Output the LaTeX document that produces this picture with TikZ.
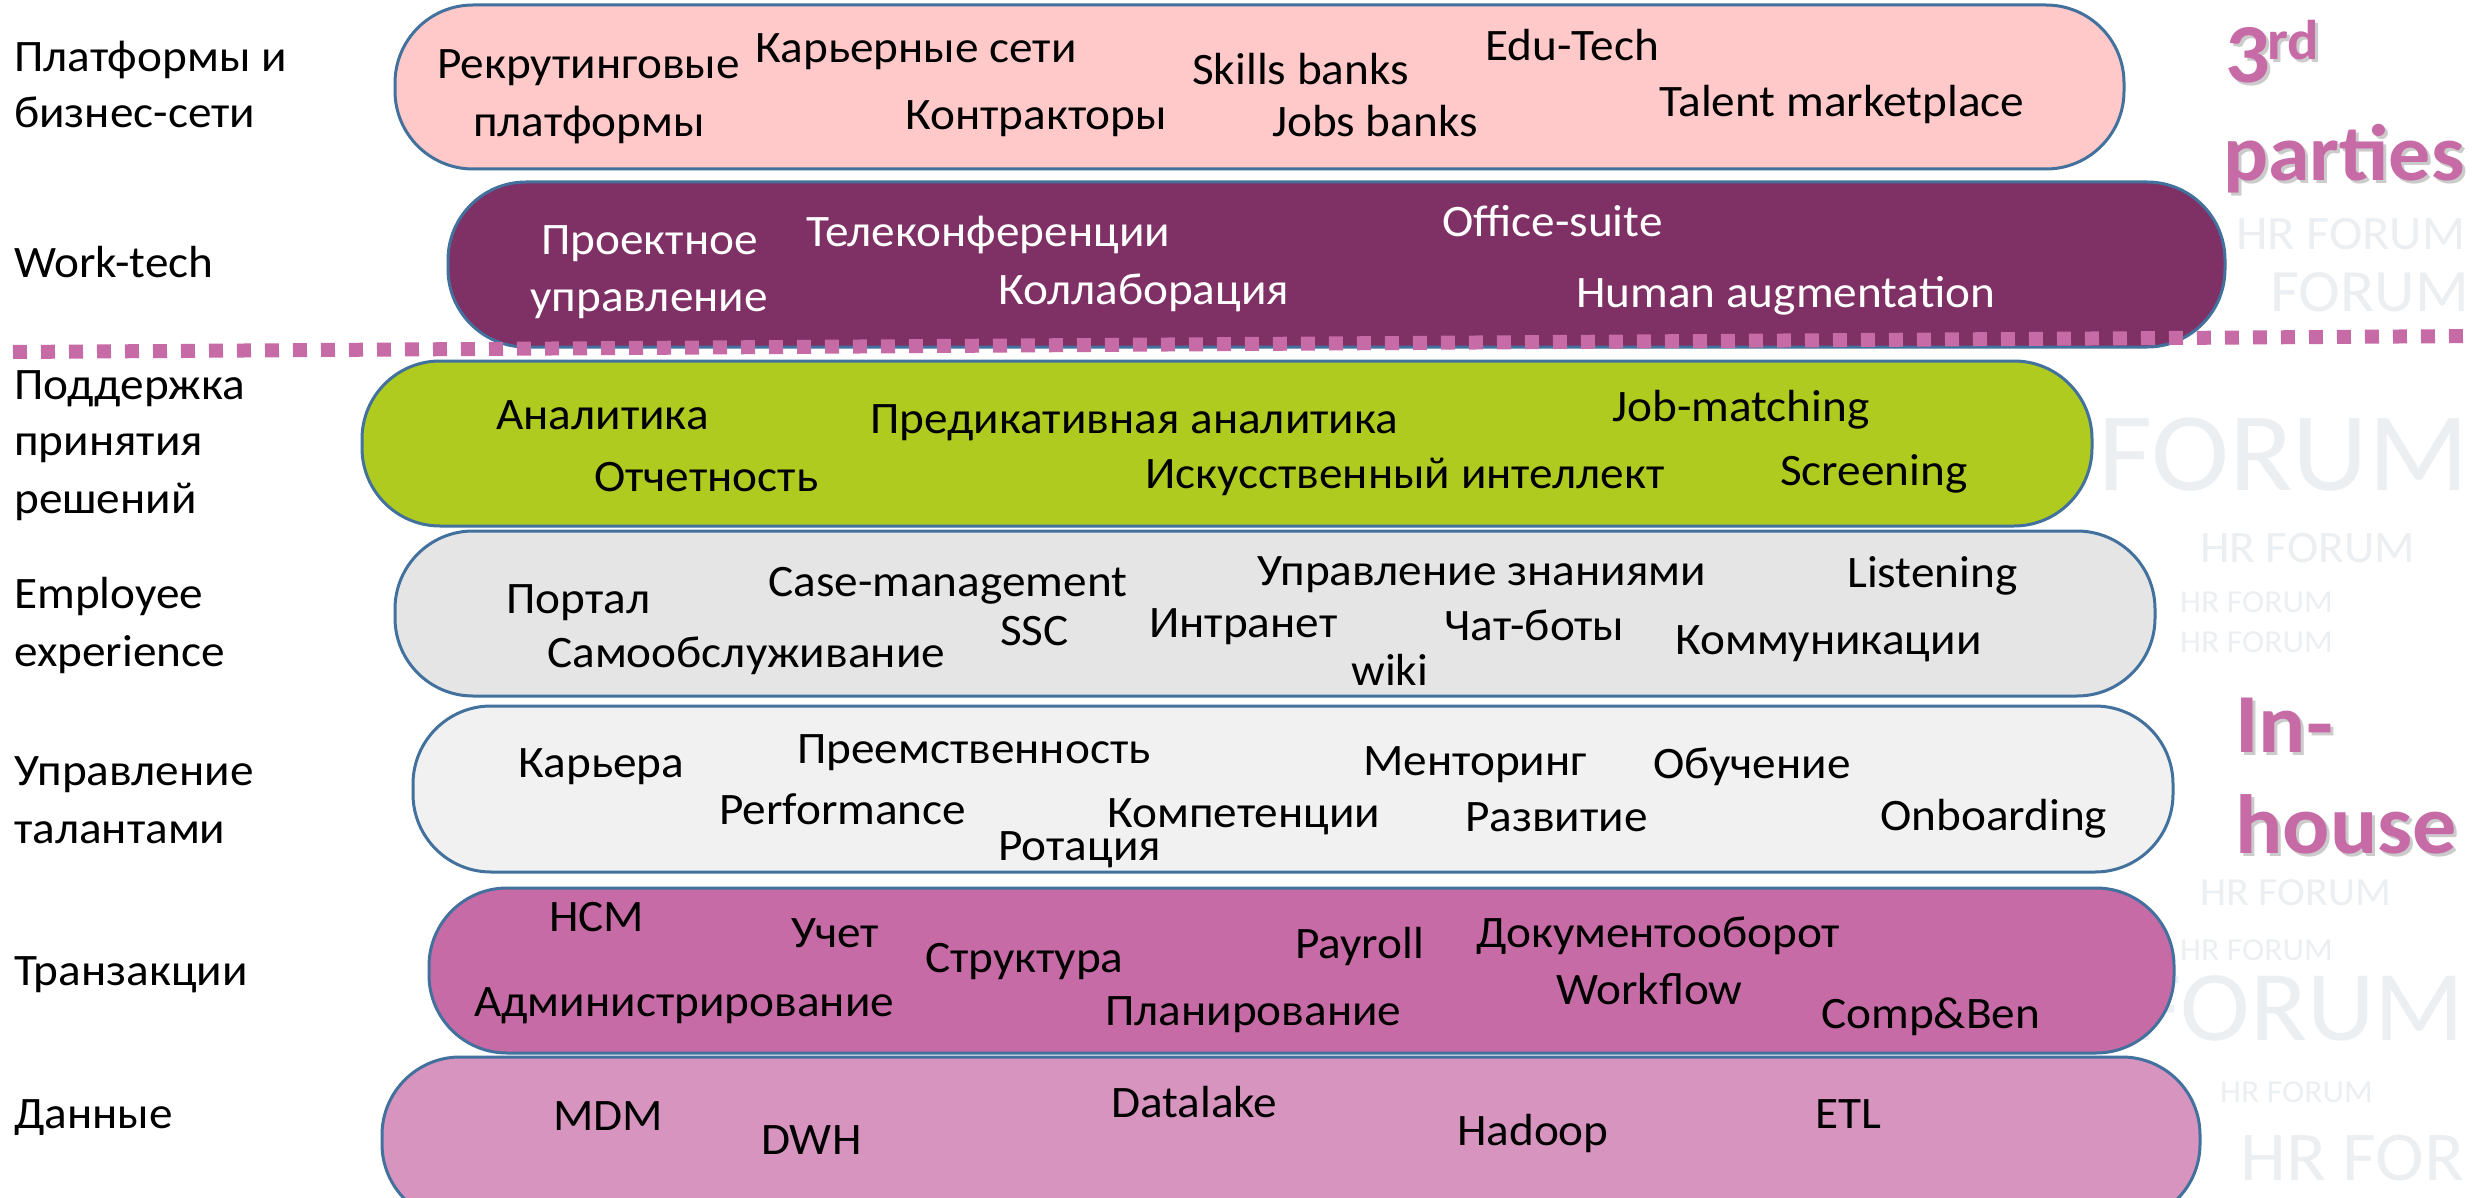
\documentclass[tikz,border=0pt]{standalone}
\usepackage{fontspec}
\setmainfont{Carlito}[FakeStretch=1.05]
\definecolor{bandborder}{HTML}{41719C}
\definecolor{cpink}{HTML}{FFC9C9}
\definecolor{cwork}{HTML}{7F3064}
\definecolor{cgreen}{HTML}{B0CB1F}
\definecolor{cgrey}{HTML}{E5E5E5}
\definecolor{clight}{HTML}{F1F1F1}
\definecolor{cmag}{HTML}{C76BA6}
\definecolor{clpink}{HTML}{D694BF}
\definecolor{accent}{HTML}{C76BA6}
\definecolor{wmgray}{HTML}{ECEFF2}
\begin{document}
\begin{tikzpicture}[x=1pt,y=-1pt,
  band/.style={draw=bandborder, line width=3pt, rounded corners=78pt},
  txt/.style={anchor=base west, inner sep=0pt, font=\fontsize{45}{54}\selectfont, text=black},
  wtxt/.style={txt, text=white},
  bigtxt/.style={anchor=base west, inner sep=0pt, font=\bfseries\fontsize{84}{90}\selectfont, text=accent},
  bigshadow/.style={bigtxt, text=black!45, opacity=0.45},
  wm/.style={anchor=base west, inner sep=0pt, text=wmgray},
  dotline/.style={draw=accent, line width=14pt, dash pattern=on 14pt off 14pt}]
\useasboundingbox (0,0) rectangle (2476,1198);
\fill[white] (0,0) rectangle (2476,1198);

% faint watermark
\node[wm, font=\fontsize{48}{48}\selectfont] (wm1) at (2236,250) {HR FORUM};
\node[wm, font=\fontsize{60}{60}\selectfont] (wm2) at (2270,312) {FORUM};
\node[wm, font=\fontsize{112}{112}\selectfont] (wm3) at (2098,490) {FORUM};
\node[wm, font=\fontsize{45}{45}\selectfont] (wm4) at (2200,562) {HR FORUM};
\node[wm, font=\fontsize{32}{32}\selectfont] (wm5) at (2180,612) {HR FORUM};
\node[wm, font=\fontsize{32}{32}\selectfont] (wm6) at (2180,652) {HR FORUM};
\node[wm, font=\fontsize{40}{40}\selectfont] (wm7) at (2200,905) {HR FORUM};
\node[wm, font=\fontsize{32}{32}\selectfont] (wm8) at (2180,960) {HR FORUM};
\node[wm, font=\fontsize{100}{100}\selectfont] (wm9) at (2133,1040) {FORUM};
\node[wm, font=\fontsize{32}{32}\selectfont] (wm10) at (2220,1102) {HR FORUM};
\node[wm, font=\fontsize{70}{70}\selectfont] (wm11) at (2240,1180) {HR FOR};

% bands
\path[band, fill=cpink]  (395,5)    rectangle (2124,169);
\path[band, fill=cwork]  (448,182)  rectangle (2225,347);
\path[band, fill=cgreen] (362,361)  rectangle (2092,526);
\path[band, fill=cgrey]  (395,531)  rectangle (2155,696);
\path[band, fill=clight] (413,706)  rectangle (2173,872);
\path[band, fill=cmag]   (429,888)  rectangle (2174,1053);
\path[band, fill=clpink] (382,1057) rectangle (2200,1222);

% dotted separator
\coordinate (dl) at (13,352);
\coordinate (dr) at (2476,336);
\draw[dotline] (dl) -- (dr);

% row labels
\node[txt] (L1a) at (14,72)   {Платформы и};
\node[txt] (L1b) at (14,128)  {бизнес-сети};
\node[txt] (L2)  at (14,278)  {Work-tech};
\node[txt] (L3a) at (14,399)  {Поддержка};
\node[txt] (L3b) at (14,455)  {принятия};
\node[txt] (L3c) at (14,513)  {решений};
\node[txt] (L4a) at (14,608)  {Employee};
\node[txt] (L4b) at (14,666)  {experience};
\node[txt] (L5a) at (14,785)  {Управление};
\node[txt] (L5b) at (14,843)  {талантами};
\node[txt] (L6)  at (14,985)  {Транзакции};
\node[txt] (L7)  at (14,1128) {Данные};

% row 1
\node[txt] (a1) at (437,79)   {Рекрутинговые};
\node[txt] (a2) at (473,137)  {платформы};
\node[txt] (a3) at (755,63)   {Карьерные сети};
\node[txt] (a4) at (905,130)  {Контракторы};
\node[txt] (a5) at (1192,85)  {Skills banks};
\node[txt] (a6) at (1485,61)  {Edu-Tech};
\node[txt] (a7) at (1272,137) {Jobs banks};
\node[txt] (a8) at (1659,117) {Talent marketplace};

% row 2
\node[wtxt] (b1) at (541,255)  {Проектное};
\node[wtxt] (b2) at (530,312)  {управление};
\node[wtxt] (b3) at (806,247)  {Телеконференции};
\node[wtxt] (b4) at (998,305)  {Коллаборация};
\node[wtxt] (b5) at (1442,237) {Office-suite};
\node[wtxt] (b6) at (1576,308) {Human augmentation};

% row 3
\node[txt] (c1) at (496,429)  {Аналитика};
\node[txt] (c2) at (594,491)  {Отчетность};
\node[txt] (c3) at (870,433)  {Предикативная аналитика};
\node[txt] (c4) at (1145,488) {Искусственный интеллект};
\node[txt] (c5) at (1612,421) {Job-matching};
\node[txt] (c6) at (1780,485) {Screening};

% row 4
\node[txt] (d1) at (506,613)  {Портал};
\node[txt] (d2) at (768,596)  {Case-management};
\node[txt] (d3) at (1000,645) {SSC};
\node[txt] (d4) at (547,667)  {Самообслуживание};
\node[txt] (d5) at (1149,637) {Интранет};
\node[txt] (d6) at (1257,585) {Управление знаниями};
\node[txt] (d7) at (1847,587) {Listening};
\node[txt] (d8) at (1444,640) {Чат-боты};
\node[txt] (d9) at (1351,685) {wiki};
\node[txt] (d10) at (1675,654) {Коммуникации};

% row 5
\node[txt] (e1) at (518,777)  {Карьера};
\node[txt] (e2) at (797,763)  {Преемственность};
\node[txt] (e3) at (719,824)  {Performance};
\node[txt] (e4) at (998,860)  {Ротация};
\node[txt] (e5) at (1107,827) {Компетенции};
\node[txt] (e6) at (1363,775) {Менторинг};
\node[txt] (e7) at (1653,778) {Обучение};
\node[txt] (e8) at (1465,831) {Развитие};
\node[txt] (e9) at (1880,830) {Onboarding};

% row 6
\node[txt] (f1) at (549,931)  {HCM};
\node[txt] (f2) at (791,947)  {Учет};
\node[txt] (f3) at (925,972)  {Структура};
\node[txt] (f4) at (474,1016) {Администрирование};
\node[txt] (f5) at (1105,1025) {Планирование};
\node[txt] (f6) at (1295,958) {Payroll};
\node[txt] (f7) at (1476,947) {Документооборот};
\node[txt] (f8) at (1556,1004) {Workflow};
\node[txt] (f9) at (1821,1028) {Comp\&Ben};

% row 7
\node[txt] (g1) at (553,1130) {MDM};
\node[txt] (g2) at (761,1154) {DWH};
\node[txt] (g3) at (1111,1117) {Datalake};
\node[txt] (g4) at (1457,1145) {Hadoop};
\node[txt] (g5) at (1815,1128) {ETL};

% big labels
\node[bigshadow] (s1) at (2228,86) {3};
\node[bigshadow, font=\bfseries\fontsize{56}{60}\selectfont] (s2) at (2270,63) {rd};
\node[bigshadow, font=\bfseries\fontsize{80}{86}\selectfont] (s3) at (2226,184) {parties};
\node[bigshadow] (s4) at (2238,755) {In-};
\node[bigshadow] (s5) at (2238,856) {house};
\node[bigtxt] (p1) at (2225,83) {3};
\node[bigtxt, font=\bfseries\fontsize{56}{60}\selectfont] (p2) at (2267,60) {rd};
\node[bigtxt, font=\bfseries\fontsize{80}{86}\selectfont] (p3) at (2223,181) {parties};
\node[bigtxt] (p4) at (2235,752) {In-};
\node[bigtxt] (p5) at (2235,853) {house};
\end{tikzpicture}
\end{document}
